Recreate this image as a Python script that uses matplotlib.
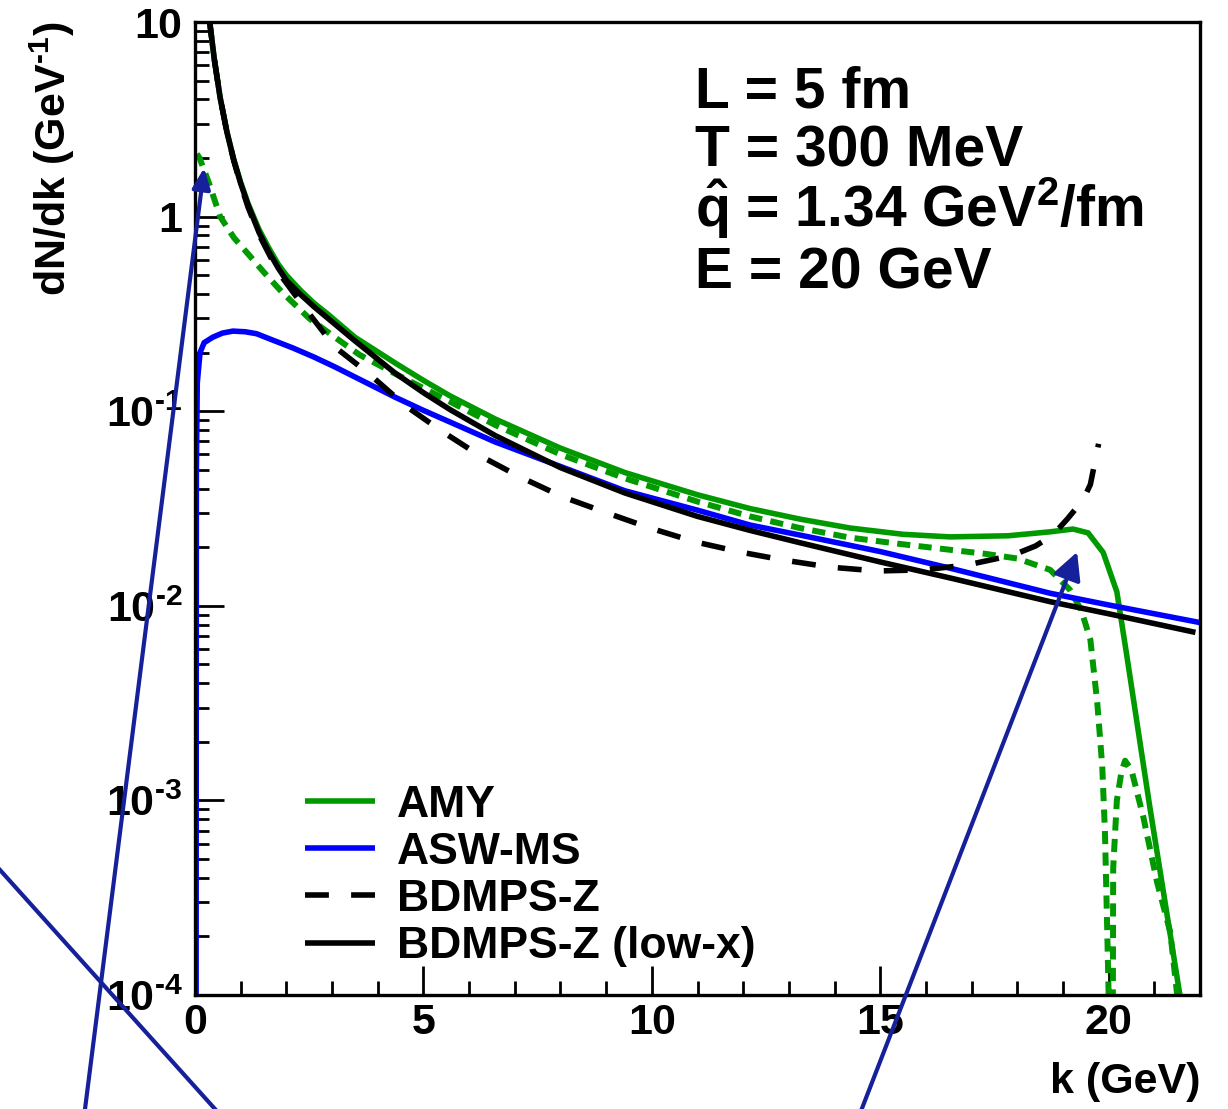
import numpy as np
import matplotlib
matplotlib.use('Agg')
import matplotlib.pyplot as plt
from matplotlib.ticker import FixedLocator, FixedFormatter, MultipleLocator, LogLocator, NullFormatter
from matplotlib.lines import Line2D

# ---------------- data ----------------
k_amy = [0.3, 0.42, 0.55, 0.7, 0.85, 1.0, 1.16, 1.4, 1.6, 1.82, 2.0, 2.3, 2.6, 2.91, 3.5, 4.38,
         5.0, 5.58, 6.57, 8.0, 9.41, 11.0, 12.15, 13.24, 14.34, 15.5, 16.53, 17.8, 18.72, 19.22,
         19.55, 19.88, 20.18, 20.4, 20.9, 21.56, 21.9]
amy = [11, 6.5, 4.1, 2.72, 1.96, 1.5, 1.17, 0.86, 0.70, 0.57, 0.50, 0.42, 0.36, 0.315, 0.24, 0.177,
       0.144, 0.120, 0.0912, 0.0646, 0.0484, 0.0372, 0.0316, 0.0279, 0.0251, 0.0233, 0.0226,
       0.0229, 0.024, 0.0248, 0.0237, 0.0188, 0.0118, 0.0055, 9.3e-4, 1e-4, 4e-5]

k_amy_dash = [0.04, 0.1, 0.3, 0.55, 0.85, 1.22, 1.5, 1.9, 2.5, 3.06, 3.6, 4.4, 5.58, 6.57, 8.0,
              9.41, 11.0, 12.15, 13.24, 14.34, 15.5, 16.53, 17.3, 18.0, 18.72, 19.15, 19.4, 19.6,
              19.75, 19.86, 19.92, 19.97, 20.0, 20.04, 20.07, 20.1, 20.18, 20.28, 20.36, 20.5,
              20.76, 21.06, 21.35, 21.5, 21.6]
amy_dash = [2.1, 2.0, 1.5, 1.0, 0.78, 0.62, 0.52, 0.41, 0.30, 0.24, 0.195, 0.155, 0.112, 0.085,
            0.060, 0.0452, 0.0343, 0.0288, 0.0251, 0.0224, 0.0207, 0.0194, 0.0185, 0.0175, 0.0153,
            0.0121, 0.0095, 0.0067, 0.0032, 0.0015, 6.8e-4, 2.1e-4, 1e-4, 1e-6, 1e-6, 4.5e-4,
            1.0e-3, 1.4e-3, 1.6e-3, 1.43e-3, 8.2e-4, 3.8e-4, 2.1e-4, 1e-4, 6e-5]

k_asw = [0.02, 0.03, 0.05, 0.11, 0.2, 0.39, 0.6, 0.83, 1.1, 1.35, 1.7, 2.15, 2.6, 3.06, 3.7, 4.38,
         5.0, 5.58, 6.57, 8.0, 9.41, 11.0, 12.15, 13.24, 15.0, 16.53, 18.72, 20.0, 22.0]
asw = [1e-6, 0.05, 0.14, 0.2, 0.225, 0.24, 0.252, 0.258, 0.256, 0.25, 0.232, 0.211, 0.19, 0.169,
       0.142, 0.118, 0.101, 0.088, 0.0695, 0.052, 0.039, 0.031, 0.026, 0.0231, 0.019, 0.0156,
       0.0116, 0.0101, 0.0082]

k_bdmps = [0.3, 0.42, 0.55, 0.7, 0.85, 1.0, 1.16, 1.4, 1.82, 2.4, 3.06, 3.79, 4.6, 5.4, 6.24, 7.11,
           8.06, 9.02, 9.96, 10.95, 11.93, 12.87, 13.9, 14.93, 15.94, 16.9, 17.9, 18.4, 18.78,
           19.1, 19.44, 19.6, 19.74, 19.78]
bdmps = [11, 6.5, 4.1, 2.7, 1.93, 1.46, 1.12, 0.81, 0.52, 0.34, 0.214, 0.157, 0.107, 0.079, 0.059,
         0.046, 0.0362, 0.030, 0.0251, 0.0213, 0.0189, 0.0172, 0.0158, 0.0151, 0.0153, 0.0162,
         0.0182, 0.0203, 0.0231, 0.028, 0.035, 0.042, 0.061, 0.068]

k_lowx = [0.3, 0.42, 0.55, 0.7, 0.85, 1.0, 1.16, 1.4, 1.6, 1.82, 2.0, 2.3, 2.6, 2.91, 3.5, 4.38,
          5.0, 5.58, 6.57, 8.0, 9.41, 11.0, 12.15, 13.24, 15.0, 16.53, 18.72, 20.0, 21.9]
lowx = [11, 6.5, 4.08, 2.71, 1.95, 1.48, 1.15, 0.83, 0.67, 0.545, 0.47, 0.40, 0.345, 0.30, 0.23,
        0.157, 0.1245, 0.102, 0.075, 0.0513, 0.038, 0.0288, 0.0244, 0.0211, 0.0168, 0.0139,
        0.0105, 0.0091, 0.0073]

series_labels = ['AMY', 'ASW-MS', 'BDMPS-Z', 'BDMPS-Z (low-x)']
info_lines = ['L = 5 fm', 'T = 300 MeV', r'$\hat{q}$ = 1.34 GeV$^{2}$/fm', 'E = 20 GeV']

x_major = [0, 5, 10, 15, 20]
x_labels = ['0', '5', '10', '15', '20']
y_major = [1e-4, 1e-3, 1e-2, 1e-1, 1, 10]
y_labels = [r'10$^{\text{-4}}$', r'10$^{\text{-3}}$', r'10$^{\text{-2}}$', r'10$^{\text{-1}}$',
            '1', '10']

# arrow annotations: tip in data coords, tail in figure fraction
arrow_tips = [(0.2, 1.78), (19.31, 0.0189)]
arrow_tails = [(0.0681, -0.0099), (0.6983, -0.0099)]
arrow_heads = [(12.5, 5.5), (16.5, 8.5)]
stray_line_x = [-0.0081, 0.1832]
stray_line_y = [0.2255, -0.0100]

# ---------------- style ----------------
plt.rcParams['font.family'] = ['Liberation Sans', 'DejaVu Sans']
plt.rcParams['font.weight'] = 'bold'
plt.rcParams['mathtext.fontset'] = 'custom'
plt.rcParams['mathtext.rm'] = 'Liberation Sans:bold'
plt.rcParams['mathtext.bf'] = 'Liberation Sans:bold'
plt.rcParams['mathtext.it'] = 'Liberation Sans:bold'
plt.rcParams['mathtext.sf'] = 'Liberation Sans:bold'

GREEN = '#009900'
BLUE = '#0000ff'
NAVY = '#16209a'
LW = 4.0

fig = plt.figure(figsize=(12.28, 11.09), dpi=100)
ax = fig.add_axes([195 / 1228, 1 - 995 / 1109, 1005 / 1228, 973 / 1109])

l_amy, = ax.plot(k_amy, amy, color=GREEN, lw=LW, solid_capstyle='butt')
ax.plot(k_amy_dash, amy_dash, color=GREEN, lw=LW + 0.3, dashes=(2.2, 1.4))
l_asw, = ax.plot(k_asw, asw, color=BLUE, lw=LW, solid_capstyle='butt')
l_bd, = ax.plot(k_bdmps, bdmps, color='black', lw=LW, dashes=(4.3, 4.0))
l_lx, = ax.plot(k_lowx, lowx, color='black', lw=LW, solid_capstyle='butt')

ax.set_yscale('log')
ax.set_xlim(0, 22)
ax.set_ylim(1e-4, 10)

ax.xaxis.set_major_locator(FixedLocator(x_major))
ax.xaxis.set_major_formatter(FixedFormatter(x_labels))
ax.xaxis.set_minor_locator(MultipleLocator(1))
ax.yaxis.set_major_locator(FixedLocator(y_major))
ax.yaxis.set_major_formatter(FixedFormatter(y_labels))
ax.yaxis.set_minor_locator(LogLocator(base=10, subs=np.arange(2, 10)))
ax.yaxis.set_minor_formatter(NullFormatter())

ax.tick_params(which='both', direction='in', width=2.0, top=False, right=False)
ax.tick_params(which='major', length=21)
ax.tick_params(which='minor', length=10)
ax.tick_params(axis='x', which='major', labelsize=31, pad=6)
ax.tick_params(axis='y', which='major', labelsize=31, pad=9)
for s in ax.spines.values():
    s.set_linewidth(2.4)

ax.set_xlabel('k (GeV)', fontsize=31, fontweight='bold', loc='right')
ax.xaxis.set_label_coords(1.0, -0.069)
ax.set_ylabel(r'dN/dk (GeV$^{\text{-1}}$)', fontsize=31, fontweight='bold', loc='top')
ax.yaxis.set_label_coords(-0.1174, 1.0)

info_y = [0.9126, 0.851, 0.7893, 0.7266]
for txt, yy in zip(info_lines, info_y):
    ax.text(0.4975, yy, txt, transform=ax.transAxes, fontsize=41, fontweight='bold',
            ha='left', va='baseline')

leg = ax.legend([l_amy, l_asw, l_bd, l_lx], series_labels, loc='upper left',
                bbox_to_anchor=(0.1095, 0.2163), frameon=False, fontsize=32,
                handlelength=1.576, handletextpad=0.5, labelspacing=0.14,
                borderpad=0, borderaxespad=0)
for t in leg.get_texts():
    t.set_fontweight('bold')

for tip, tail, (hl, hw) in zip(arrow_tips, arrow_tails, arrow_heads):
    ax.annotate('', xy=tip, xycoords='data', xytext=tail, textcoords='figure fraction',
                arrowprops=dict(arrowstyle=f'-|>,head_length={hl},head_width={hw}',
                                mutation_scale=1, color=NAVY, lw=3.0,
                                shrinkA=0, shrinkB=0, clip_on=False),
                annotation_clip=False)

fig.add_artist(Line2D(stray_line_x, stray_line_y, transform=fig.transFigure,
                      color=NAVY, lw=3.0))

fig.savefig('out.png', dpi=100)
